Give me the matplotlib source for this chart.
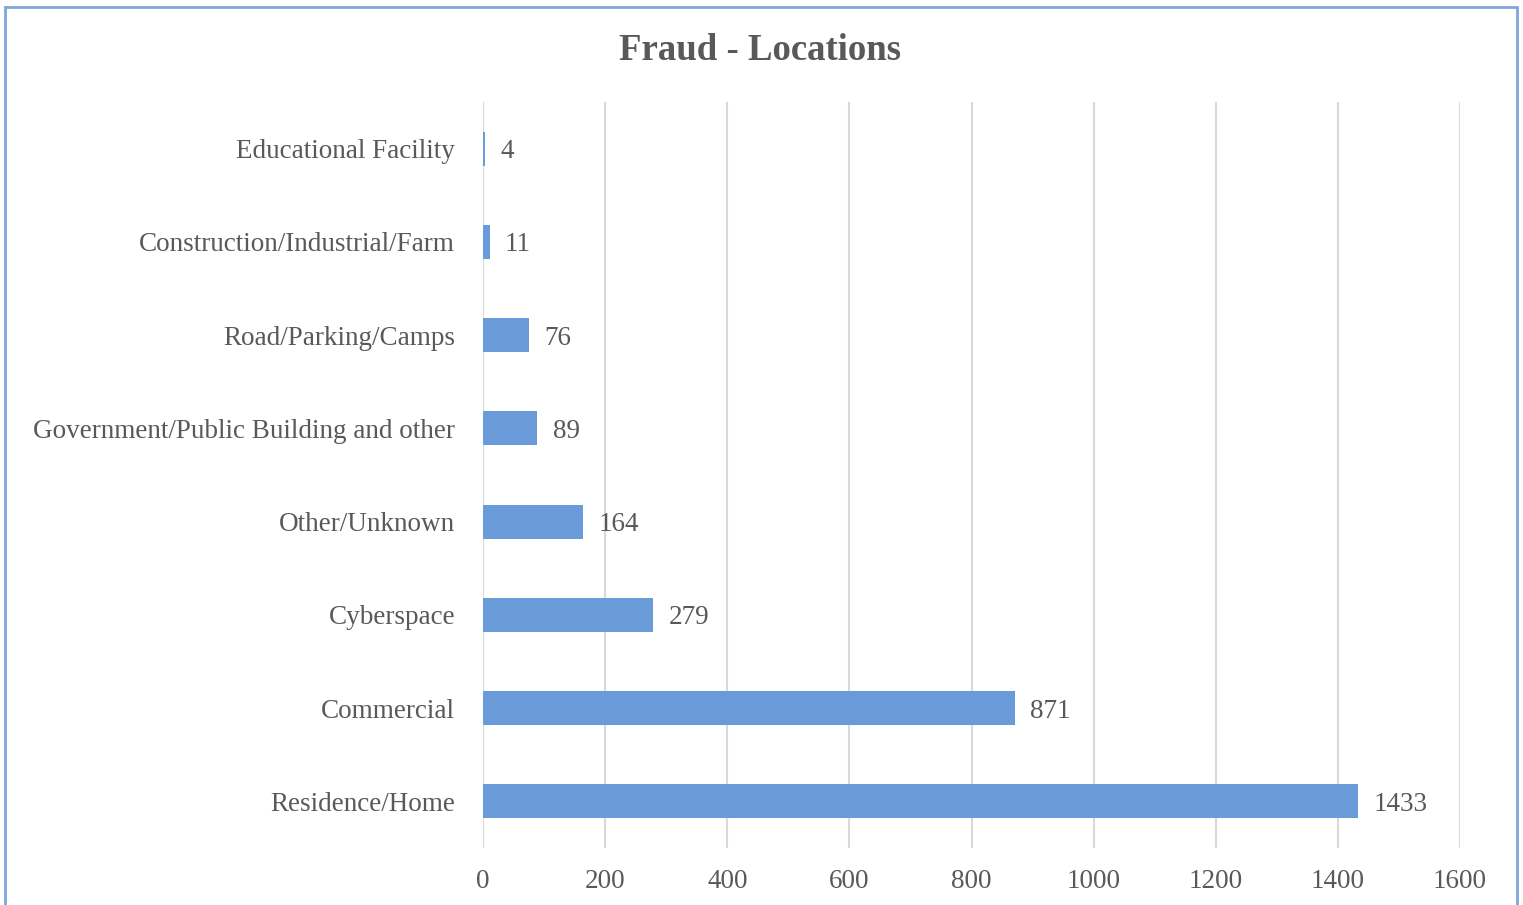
import matplotlib.pyplot as plt
from matplotlib.patches import Rectangle

# Fraud counts by location type
categories = ['Residence/Home', 'Commercial', 'Cyberspace', 'Other/Unknown',
              'Government/Public Building and other', 'Road/Parking/Camps',
              'Construction/Industrial/Farm', 'Educational Facility']
counts = [1433, 871, 279, 164, 89, 76, 11, 4]
xticks = [0, 200, 400, 600, 800, 1000, 1200, 1400, 1600]

plt.rcParams['font.family'] = ['Liberation Serif', 'DejaVu Serif']
text_col = '#595959'
bar_col = '#6A9BD9'
grid_col = '#D9D9D9'

fig = plt.figure(figsize=(15.23, 9.05), dpi=100)
ax = fig.add_axes([483/1523, 1 - 848/905, (1460 - 483)/1523, (848 - 102)/905])

y = range(len(categories))
ax.barh(y, counts, height=0.365, color=bar_col, zorder=3)
for yi, v in zip(y, counts):
    ax.text(v + 25, yi, str(v), va='center_baseline', ha='left', fontsize=19.5,
            color=text_col)

ax.set_xlim(0, 1600)
ax.set_ylim(-0.5, len(categories) - 0.5)
ax.set_xticks(xticks)
ax.set_xticklabels([str(t) for t in xticks], fontsize=19.5, color=text_col)
ax.set_yticks(list(y))
ax.set_yticklabels(categories, fontsize=19.5, color=text_col)
ax.tick_params(axis='both', length=0)
ax.tick_params(axis='x', pad=15)
ax.tick_params(axis='y', pad=20)
ax.grid(axis='x', color=grid_col, linewidth=1.5, zorder=0)
for s in ax.spines.values():
    s.set_visible(False)

fig.text(760/1523, 1 - 50/905, 'Fraud - Locations', ha='center', va='center',
         fontsize=26.5, fontweight='bold', color=text_col)

# outer chart frame
fig.patches.append(Rectangle((5/1523, -0.05), (1517 - 5)/1523, 1.05 - 7/905,
                             transform=fig.transFigure, fill=False,
                             edgecolor='#7FA6DC', linewidth=2))

fig.savefig('out.png', dpi=100, facecolor='white')
